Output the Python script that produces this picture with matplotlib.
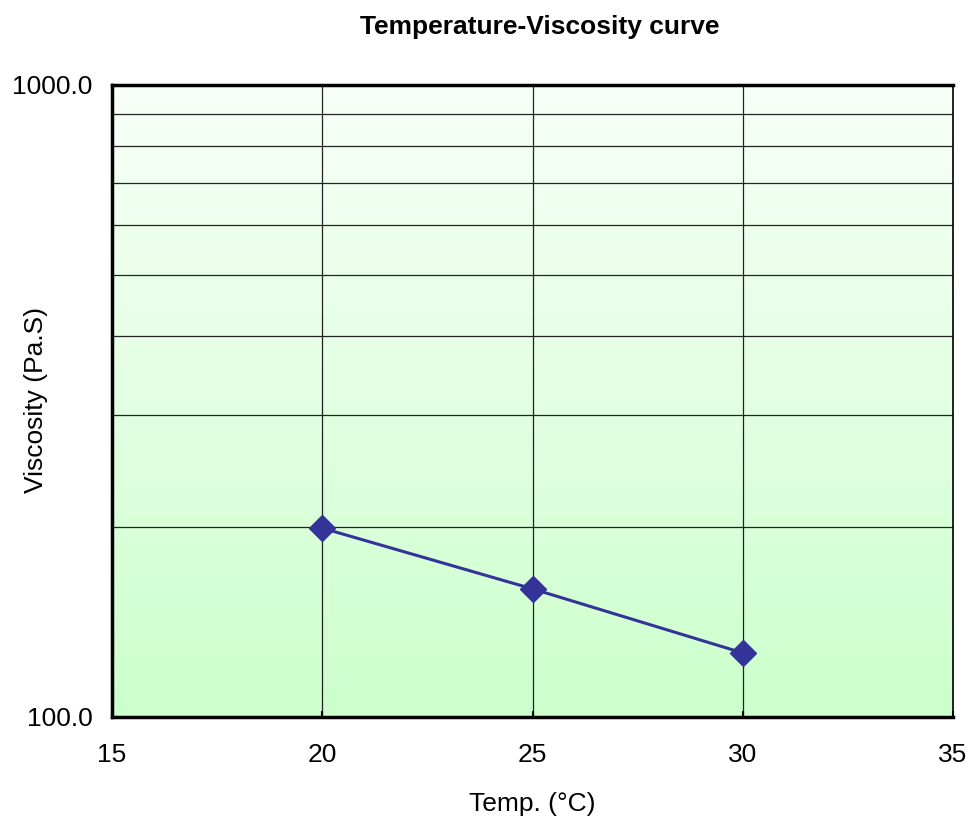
import matplotlib
matplotlib.use("Agg")
import matplotlib.pyplot as plt
import numpy as np
from matplotlib.colors import LinearSegmentedColormap
from matplotlib.ticker import FixedLocator, NullFormatter, FuncFormatter

temps = [20, 25, 30]
viscosity = [199, 159.5, 126.3]
x_ticks = [15, 20, 25, 30, 35]
y_major = [100, 1000]
y_minor = [200, 300, 400, 500, 600, 700, 800, 900]

plt.rcParams['font.family'] = ['Liberation Sans', 'DejaVu Sans']

fig = plt.figure(figsize=(9.76, 8.17), dpi=100)
ax = fig.add_axes([112/976, 1-717/817, (953-112)/976, (717-85)/817])

cmap = LinearSegmentedColormap.from_list("g", ["#ccffcc", "#f8fff8"])
grad = np.linspace(0, 1, 256).reshape(-1, 1)
ax.imshow(grad, aspect='auto', cmap=cmap, origin='lower',
          extent=[0, 1, 0, 1], transform=ax.transAxes, zorder=0)

ax.set_yscale('log')
ax.set_xlim(15, 35)
ax.set_ylim(100, 1000)

ax.plot(temps, viscosity, color='#333399', lw=2.2, marker='D', ms=13,
        markerfacecolor='#333399', markeredgecolor='#333399', zorder=5)

ax.xaxis.set_major_locator(FixedLocator(x_ticks))
ax.yaxis.set_major_locator(FixedLocator(y_major))
ax.yaxis.set_minor_locator(FixedLocator(y_minor))
ax.yaxis.set_minor_formatter(NullFormatter())
ax.yaxis.set_major_formatter(FuncFormatter(lambda v, p: f"{v:.1f}"))

ax.grid(True, which='both', axis='y', color='#222222', lw=0.9, zorder=1)
ax.grid(True, which='major', axis='x', color='#222222', lw=0.9, zorder=1)

ax.tick_params(axis='both', which='both', direction='in', labelsize=19, length=4, width=1.5)
ax.tick_params(axis='y', which='minor', length=0)
ax.tick_params(axis='x', pad=19)
ax.tick_params(axis='y', pad=14)

for s in ax.spines.values():
    s.set_linewidth(2.5)
    s.set_color('black')
ax.spines['right'].set_linewidth(1.2)

ax.set_xlabel("Temp. (°C)", fontsize=19, labelpad=18)
ax.set_ylabel("Viscosity (Pa.S)", fontsize=19, labelpad=0)
ax.yaxis.set_label_coords(0, 0.5)
ax.yaxis.label.set_transform(fig.transFigure)
ax.yaxis.label.set_position((48/976, (817-400)/817))
fig.text(540/976, 1-27/817, "Temperature-Viscosity curve", fontsize=19,
         fontweight='bold', ha='center', va='center')

fig.savefig("out.png", dpi=100)
